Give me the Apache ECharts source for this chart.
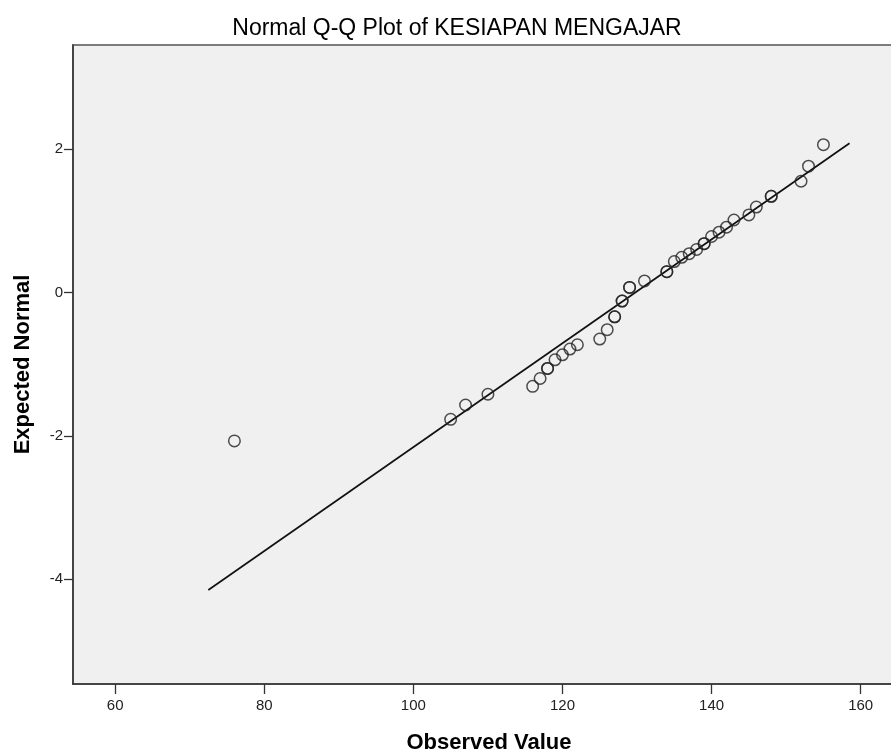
<!DOCTYPE html>
<html>
<head>
<meta charset="utf-8">
<script src="https://cdn.jsdelivr.net/npm/echarts@6/dist/echarts.min.js"></script>
<style>
  html, body { margin: 0; padding: 0; background: #ffffff; }
  #chart { width: 891px; height: 756px; }
</style>
</head>
<body>
<div id="chart"></div>
<script>
// Observed scores (ties repeated) and their expected normal values
const observedValues = [76, 105, 107, 110, 116, 117, 118, 118, 119, 120, 121, 122, 125, 126,
  127, 127, 128, 128, 129, 129, 131, 134, 134, 135, 136, 137, 138, 139, 139, 140,
  141, 142, 143, 145, 146, 148, 148, 152, 153, 155];
const expectedNormal = [-2.07, -1.77, -1.57, -1.42, -1.31, -1.20, -1.06, -1.06, -0.94, -0.87,
  -0.79, -0.73, -0.65, -0.52, -0.34, -0.34, -0.12, -0.12, 0.07, 0.07, 0.16, 0.29, 0.29,
  0.43, 0.49, 0.54, 0.60, 0.68, 0.68, 0.78, 0.84, 0.91, 1.01, 1.08, 1.19, 1.34, 1.34,
  1.55, 1.76, 2.06];

// Reference line end points
const refLineX = [72.5, 158.5];
const refLineY = [-4.15, 2.08];

// Tick labels
const xTickValues = [60, 80, 100, 120, 140, 160];
const yTickValues = [-4, -2, 0, 2];

const chartTitle = 'Normal Q-Q Plot of KESIAPAN MENGAJAR';
const xAxisName = 'Observed Value';
const yAxisName = 'Expected Normal';

const points = observedValues.map((v, i) => [v, expectedNormal[i]]);
const refLine = refLineX.map((v, i) => [v, refLineY[i]]);

const baseFont = '"Liberation Sans", Arial, sans-serif';

const chart = echarts.init(document.getElementById('chart'), null, { renderer: 'canvas' });

chart.setOption({
  backgroundColor: '#ffffff',
  animation: false,
  title: {
    text: chartTitle,
    left: 452,
    textAlign: 'center',
    top: 12,
    textStyle: { fontFamily: baseFont, fontSize: 23, fontWeight: 'normal', color: '#000' }
  },
  grid: {
    left: 73, top: 45, width: 822, height: 639,
    outerBoundsMode: 'none',
    containLabel: false,
    show: true,
    backgroundColor: '#f0f0f0',
    borderColor: '#7c7c7c',
    borderWidth: 2
  },
  xAxis: {
    type: 'value',
    min: 54.35,
    max: 164.6,
    name: xAxisName,
    nameLocation: 'middle',
    nameGap: 48,
    nameTextStyle: { fontFamily: baseFont, fontSize: 22, fontWeight: 'bold', color: '#000', padding: [0, 0, 0, 10] },
    axisLine: { show: true, onZero: false, lineStyle: { color: '#333', width: 1.5 } },
    axisTick: { show: true, length: 10, customValues: xTickValues, lineStyle: { color: '#333', width: 1.3 } },
    axisLabel: { customValues: xTickValues, margin: 14, fontFamily: baseFont, fontSize: 15, color: '#222' },
    splitLine: { show: false }
  },
  yAxis: {
    type: 'value',
    min: -5.46,
    max: 3.45,
    name: yAxisName,
    nameLocation: 'middle',
    nameGap: 39,
    nameRotate: 90,
    nameTextStyle: { fontFamily: baseFont, fontSize: 22, fontWeight: 'bold', color: '#000' },
    axisLine: { show: true, onZero: false, lineStyle: { color: '#333', width: 1.5 } },
    axisTick: { show: true, length: 9, customValues: yTickValues, lineStyle: { color: '#333', width: 1.3 } },
    axisLabel: { customValues: yTickValues, margin: 10, fontFamily: baseFont, fontSize: 15, color: '#222' },
    splitLine: { show: false }
  },
  series: [
    {
      type: 'line',
      data: refLine,
      symbol: 'none',
      silent: true,
      lineStyle: { color: '#111', width: 1.7 },
      z: 2
    },
    {
      type: 'scatter',
      data: points,
      symbol: 'circle',
      symbolSize: 11.5,
      itemStyle: { color: 'rgba(0,0,0,0)', borderColor: '#222', borderWidth: 1.5 },
      z: 3
    }
  ]
});
</script>
</body>
</html>
